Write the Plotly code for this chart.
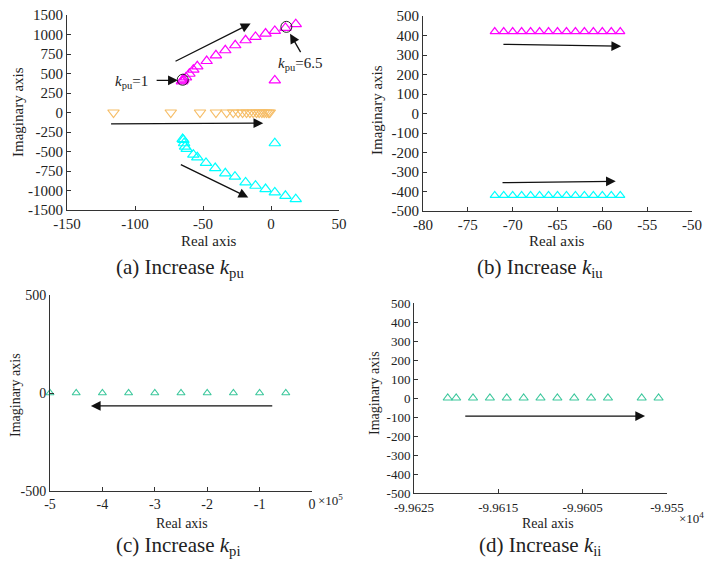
import plotly.graph_objects as go

W, H = 708, 565
FONT = "Liberation Serif"
INK = "#222222"

# ---------------- data ----------------
# (a) Increase k_pu
a_mag_re = [-65.5, -65.0, -64.5, -62.5, -60.0, -57.1, -54.2, -47.3, -40.5, -33.6, -26.3, -18.7, -11.4, -4.0, 2.8, 10.6, 18.2, 2.8]
a_mag_im = [400, 412, 425, 450, 497, 549, 592, 660, 733, 798, 862, 926, 969, 1012, 1046, 1085, 1132, 412]
a_cya_re = [-65.0, -64.4, -63.9, -63.2, -62.0, -57.1, -54.2, -47.8, -41.0, -33.6, -26.5, -18.7, -11.4, -4.0, 2.8, 10.6, 18.2, 2.8]
a_cya_im = [-340, -352, -394, -437, -467, -540, -575, -647, -712, -780, -823, -896, -939, -982, -1025, -1068, -1111, -394]
a_org_re = [-115.8, -73.7, -52.2, -40.5, -32.6, -27.8, -24.1, -20.9, -18.0, -15.5, -13.1, -10.6, -8.7, -6.7, -5.0, -3.3, -1.8, -0.9]
a_org_im = [0] * 18
a_yticks = [-1250, -1000, -750, -500, -250, 0, 250, 500, 750, 1000, 1250]
a_yticktext = ["-1500", "-1000", "-750", "-500", "-250", "0", "250", "500", "750", "1000", "1500"]
a_xticks = [-150, -100, -50, 0, 50]
a_xticktext = ["-150", "-100", "-50", "0", "50"]

# (b) Increase k_iu
b_re = [-72, -71, -70, -69, -68, -67, -66, -65, -64, -63, -62, -61, -60, -59, -58]
b_mag_im = [420] * 15
b_cya_im = [-420] * 15
b_xticks = [-80, -75, -70, -65, -60, -55, -50]
b_xticktext = ["-80", "-75", "-70", "-65", "-60", "-55", "-50"]
b_yticks = [-500, -400, -300, -200, -100, 0, 100, 200, 300, 400, 500]
b_yticktext = ["-500", "-400", "-300", "-200", "-100", "0", "100", "200", "300", "400", "500"]

# (c) Increase k_pi
c_re = [-5.0e5, -4.5e5, -4.0e5, -3.5e5, -3.0e5, -2.5e5, -2.0e5, -1.5e5, -1.0e5, -0.5e5]
c_im = [0] * 10
c_xticks = [-5e5, -4e5, -3e5, -2e5, -1e5, 0]
c_xticktext = ["-5", "-4", "-3", "-2", "-1", "0"]
c_yticks = [-500, 0, 500]
c_yticktext = ["-500", "0", "500"]

# (d) Increase k_ii
d_re = [-99621, -99620, -99618, -99616, -99614, -99612, -99610, -99608, -99606, -99604, -99602, -99598, -99596]
d_im = [0] * 13
d_xticks = [-99625, -99615, -99605, -99595]
d_xticktext = ["-9.9625", "-9.9615", "-9.9605", "-9.955"]
d_yticks = [-500, -400, -300, -200, -100, 0, 100, 200, 300, 400, 500]
d_yticktext = ["-500", "-400", "-300", "-200", "-100", "0", "100", "200", "300", "400", "500"]

MAG = "#ff00ff"
CYA = "#00ffff"
ORG = "#f6bd66"
TEAL = "#3cc79c"


def px(x):
    return x / W


def py(y):
    return 1 - y / H


fig = go.Figure()


def pts(x, y, xa, ya, sym, size, color, lw=1.2):
    fig.add_trace(go.Scatter(x=x, y=y, mode="markers", xaxis=xa, yaxis=ya, cliponaxis=False,
                             marker=dict(symbol=sym, size=size, color=color, line=dict(width=lw))))


pts(a_mag_re, a_mag_im, "x", "y", "triangle-up-open", 10, MAG)
pts(a_cya_re, a_cya_im, "x", "y", "triangle-up-open", 10, CYA)
pts(a_org_re, a_org_im, "x", "y", "triangle-down-open", 10, ORG)
pts(b_re, b_mag_im, "x2", "y2", "triangle-up-open", 8, MAG)
pts(b_re, b_cya_im, "x2", "y2", "triangle-up-open", 8, CYA)
pts(c_re, c_im, "x3", "y3", "triangle-up-open", 7, TEAL, 1.1)
pts(d_re, d_im, "x4", "y4", "triangle-up-open", 8, TEAL, 1.1)


def axis(domain, anchor, rng, tickvals, ticktext, size, standoff=None):
    d = dict(domain=domain, anchor=anchor, range=rng, tickvals=tickvals, ticktext=ticktext,
             showline=True, linecolor="#333333", linewidth=1, mirror=False,
             ticks="inside", ticklen=4, tickcolor="#333333", showgrid=False,
             zeroline=False, tickfont=dict(family=FONT, size=size, color=INK),
             fixedrange=True, automargin=False)
    if standoff is not None:
        d["ticklabelstandoff"] = standoff
    return d


fig.update_layout(
    width=W, height=H, margin=dict(l=0, r=0, t=0, b=0, autoexpand=False),
    paper_bgcolor="white", plot_bgcolor="white", showlegend=False,
    xaxis=axis([px(67), px(339)], "y", [-150, 50], a_xticks, a_xticktext, 15),
    yaxis=axis([py(210), py(15)], "x", [-1250, 1250], a_yticks, a_yticktext, 15),
    xaxis2=axis([px(423), px(692)], "y2", [-80, -50], b_xticks, b_xticktext, 15),
    yaxis2=axis([py(211), py(16)], "x2", [-500, 500], b_yticks, b_yticktext, 15),
    xaxis3=axis([px(50), px(312)], "y3", [-5e5, 0], c_xticks, c_xticktext, 14),
    yaxis3=axis([py(491), py(295)], "x3", [-500, 500], c_yticks, c_yticktext, 14),
    xaxis4=axis([px(414), px(667)], "y4", [-99625, -99595], d_xticks, d_xticktext, 13, 2),
    yaxis4=axis([py(493), py(303)], "x4", [-500, 500], d_yticks, d_yticktext, 13),
)

ann = []


def arrow(xr, yr, x0, y0, x1, y1):
    ann.append(dict(xref=xr, yref=yr, axref=xr, ayref=yr, x=x1, y=y1, ax=x0, ay=y0,
                    text="", showarrow=True, arrowhead=2, arrowsize=1.5, arrowwidth=1.3,
                    arrowcolor="#111111", standoff=0, startstandoff=0))


# panel (a) arrows
arrow("x", "y", -71.3, 647, -15.0, 1141)
arrow("x", "y", -118.7, -146, -5.7, -137)
arrow("x", "y", -67.4, -660, -16.7, -1089)
arrow("x", "y", -85.2, 412, -68.5, 412)
arrow("x", "y", 22.4, 755, 14.0, 1010)
# panel (b) arrows
arrow("x2", "y2", -71.2, 355, -57.9, 345)
arrow("x2", "y2", -71.3, -355, -58.5, -348)
# panel (c) arrow
arrow("x3", "y3", -0.73e5, -66, -4.22e5, -66)
# panel (d) arrow
arrow("x4", "y4", -99619.1, -95, -99597.6, -95)

txt = dict(family=FONT, size=15, color=INK)
ann.append(dict(xref="x", yref="y", x=-89, y=395, text="<i>k</i><sub>pu</sub>=1",
                showarrow=False, font=txt, xanchor="right", yanchor="middle"))
ann.append(dict(xref="x", yref="y", x=4, y=620, text="<i>k</i><sub>pu</sub>=6.5",
                showarrow=False, font=txt, xanchor="left", yanchor="middle"))


def paper_text(x, y, text, size, angle=0):
    ann.append(dict(xref="paper", yref="paper", x=px(x), y=py(y), text=text, showarrow=False,
                    textangle=angle, font=dict(family=FONT, size=size, color=INK),
                    xanchor="center", yanchor="middle"))


# axis titles
paper_text(18, 112, "Imaginary axis", 15, -90)
paper_text(377, 110, "Imaginary axis", 15, -90)
paper_text(15, 395, "Imaginary axis", 14, -90)
paper_text(375, 393, "Imaginary axis", 14, -90)
paper_text(209, 241, "Real axis", 15)
paper_text(557, 241, "Real axis", 15)
paper_text(182, 523, "Real axis", 14)
paper_text(548, 523, "Real axis", 14)
# exponent labels
paper_text(330, 500, "×10<sup>5</sup>", 13)
paper_text(691, 518, "×10<sup>4</sup>", 13)
# captions
paper_text(180, 268, "(a) Increase <i>k</i><sub>pu</sub>", 21)
paper_text(540, 268, "(b) Increase <i>k</i><sub>iu</sub>", 21)
paper_text(178, 546, "(c) Increase <i>k</i><sub>pi</sub>", 21)
paper_text(540, 546, "(d) Increase <i>k</i><sub>ii</sub>", 21)

fig.update_layout(annotations=ann)

# circles around k_pu = 1 and k_pu = 6.5 poles
for cx, cy in [(-64.9, 420), (11.3, 1098)]:
    fig.add_shape(type="circle", xref="x", yref="y", xsizemode="pixel", ysizemode="pixel",
                  xanchor=cx, yanchor=cy, x0=-5.5, x1=5.5, y0=-5.5, y1=5.5,
                  line=dict(color="#111111", width=0.9))

fig.write_html("out.html")
